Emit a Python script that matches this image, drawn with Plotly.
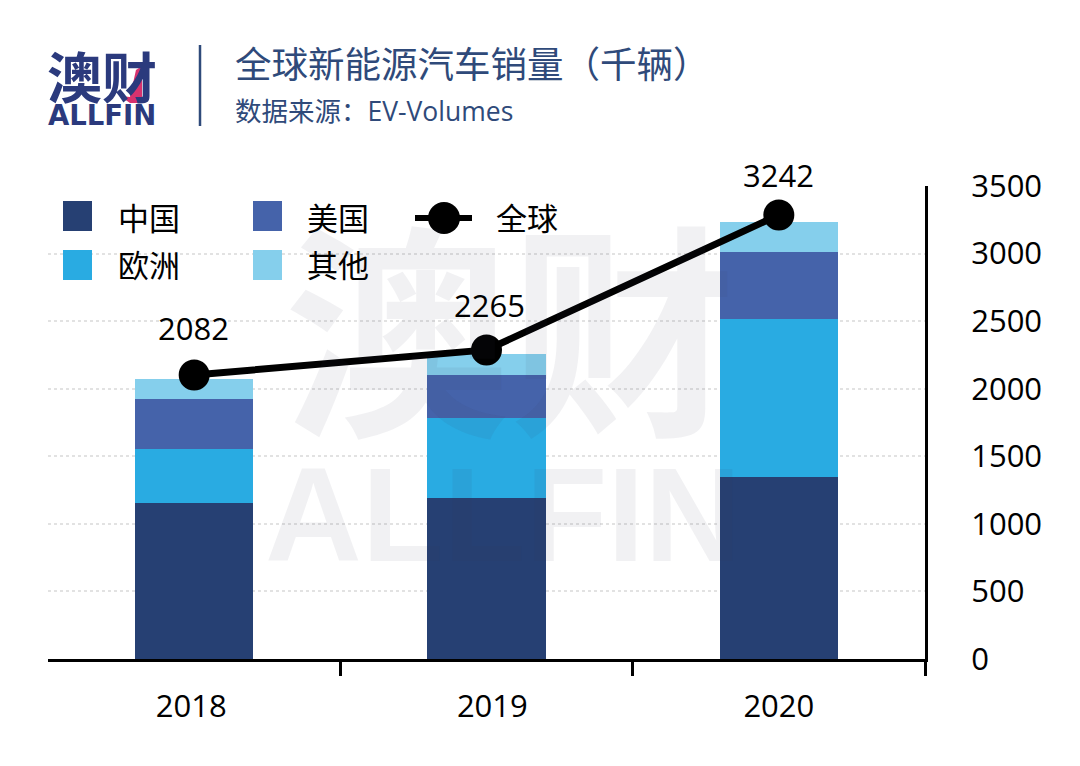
import plotly.graph_objects as go

years = ["2018", "2019", "2020"]
x_pos = [0, 1, 2]
china = [1155, 1192, 1347]
europe = [399, 592, 1170]
usa = [370, 318, 496]
other = [148, 156, 222]
global_drawn = [2102, 2287, 3286]
global_labels = [2082, 2265, 3242]
y_ticks = [0, 500, 1000, 1500, 2000, 2500, 3000, 3500]

C_CN, C_EU, C_US, C_OT = "#264073", "#29abe2", "#4563aa", "#85cfec"
NAVY = "#2f4a7a"
FONT = "Open Sans, Noto Sans CJK SC, sans-serif"
CJK = "Noto Sans CJK SC, sans-serif"

# page pixels; the plot canvas starts 8px into the page
OFF = 8
L, R, T, B = 48, 925, 186, 659
W, H = 1072, 758
px = lambda v: (v - L) / (R - L)
py = lambda v: (B - v) / (B - T)

fig = go.Figure()
for name, vals, col in [("中国", china, C_CN), ("欧洲", europe, C_EU),
                        ("美国", usa, C_US), ("其他", other, C_OT)]:
    fig.add_bar(x=x_pos, y=vals, name=name, marker=dict(color=col, line_width=0), width=0.404)
fig.add_scatter(x=x_pos, y=global_drawn, name="全球", mode="lines+markers",
                line=dict(color="black", width=7), marker=dict(color="black", size=31),
                cliponaxis=False)

ann = []
def text(x, y, s, size, color="black", family=FONT, anchor="left"):
    ann.append(dict(xref="paper", yref="paper", x=px(x), y=py(y), text=s, showarrow=False,
                    xanchor=anchor, yanchor="middle", font=dict(size=size, color=color, family=family),
                    borderpad=0, borderwidth=0))

WM = "rgba(50,50,80,0.07)"
text(510, 320, "<b>澳财</b>", 226, WM, CJK, "center")
text(503, 514, "<b>ALLFIN</b>", 134, WM, "Liberation Sans", "center")

text(102, 74, "<b>澳财</b>", 55, "#2b3a7d", CJK, "center")
text(102, 115, "<b>ALLFIN</b>", 27.5, "#2b3a7d", "DejaVu Sans", "center")
text(235, 63, "全球新能源汽车销量（千辆）", 36.5, NAVY, CJK)
text(235, 111, "数据来源：EV-Volumes", 26.5, NAVY, FONT)

for xv, yv, lab, dx, dy in zip(x_pos, global_drawn, global_labels, [-1, 3, 0], [47, 45, 40]):
    ann.append(dict(x=xv, y=yv, xref="x", yref="y", text=str(lab), showarrow=False,
                    xshift=dx, yshift=dy, font=dict(size=31, color="black", family=FONT)))

text(118, 216, "中国", 31, "black", CJK)
text(118, 263, "欧洲", 31, "black", CJK)
text(307, 216, "美国", 31, "black", CJK)
text(307, 263, "其他", 31, "black", CJK)
text(496, 216, "全球", 31, "black", CJK)

shapes = []
def sq(x0, y0, col):
    shapes.append(dict(type="rect", xref="paper", yref="paper", x0=px(x0), x1=px(x0 + 29),
                       y0=py(y0), y1=py(y0 + 30), fillcolor=col, line_width=0))
sq(63, 201, C_CN); sq(63, 250, C_EU); sq(253, 201, C_US); sq(253, 250, C_OT)
shapes.append(dict(type="line", xref="paper", yref="paper", x0=px(415), x1=px(472), y0=py(218), y1=py(218),
                   line=dict(color="black", width=6)))
shapes.append(dict(type="circle", xref="paper", yref="paper", x0=px(428), x1=px(460), y0=py(202), y1=py(234),
                   fillcolor="black", line_width=0))
shapes.append(dict(type="line", xref="paper", yref="paper", x0=px(200), x1=px(200), y0=py(45), y1=py(126),
                   line=dict(color=NAVY, width=2.5)))
pts = [(120, 96), (130, 103), (142, 103), (142, 66), (136, 70), (130, 97)]
path = "M " + " L ".join(f"{px(a):.4f} {py(b):.4f}" for a, b in pts) + " Z"
shapes.append(dict(type="path", xref="paper", yref="paper", path=path, fillcolor="#d8326e", line_width=0))

fig.update_layout(
    barmode="stack", width=W, height=H, showlegend=False,
    margin=dict(l=L - OFF, r=W - (R - OFF), t=T - OFF, b=H - (B - OFF), pad=0),
    paper_bgcolor="white", plot_bgcolor="rgba(0,0,0,0)",
    annotations=ann, shapes=shapes,
    font=dict(family=FONT, color="black"),
    xaxis=dict(type="linear", range=[-0.5, 2.5], tickmode="array", tickvals=[-0.01, 1.02, 2], ticktext=years,
               ticks="", showgrid=False, zeroline=False, showline=True, linecolor="black", linewidth=3,
               tickfont=dict(size=31), ticklabelstandoff=18,
               minor=dict(tickmode="array", tickvals=[0.5, 1.5, 2.5], ticks="outside", ticklen=14,
                          tickwidth=2.5, tickcolor="black", showgrid=False)),
    yaxis=dict(side="right", range=[0, 3500], tickmode="array", tickvals=y_ticks, ticks="",
               showgrid=True, gridcolor="#e2e2e2", gridwidth=2, griddash="dot", zeroline=False,
               showline=True, linecolor="black", linewidth=3,
               tickfont=dict(size=31), ticklabelstandoff=37),
)
fig.write_html("out.html")
